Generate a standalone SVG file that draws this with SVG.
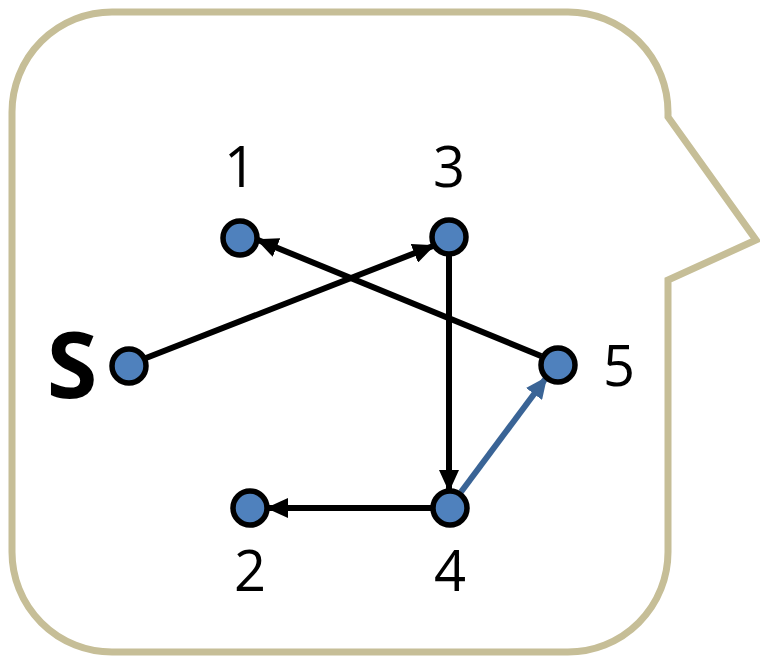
<svg xmlns="http://www.w3.org/2000/svg" width="760" height="658" viewBox="0 0 760 658">
<style>
.node{fill:#4F81BD;stroke:#000;stroke-width:5.5}
.edge{stroke:#000;stroke-width:6;fill:none}
.blue{stroke:#3A6496}
.lbl{font-family:"Open Sans","Liberation Sans",sans-serif;font-size:56px;fill:#000;text-anchor:middle}
</style>
<defs>
<marker id="ah" markerUnits="userSpaceOnUse" markerWidth="22" markerHeight="20" refX="20" refY="10" orient="auto">
<path d="M0,0 L22,10 L0,20 Z" fill="#000"/>
</marker>
<marker id="ahb" markerUnits="userSpaceOnUse" markerWidth="22" markerHeight="20" refX="20" refY="10" orient="auto">
<path d="M0,0 L22,10 L0,20 Z" fill="#3A6496"/>
</marker>
</defs>
<path id="bubble" d="M112,12 H568 A100,100 0 0 1 668,112 L668,117 L756,240 L668,280 L668,552 A100,100 0 0 1 568,652 H112 A100,100 0 0 1 12,552 V112 A100,100 0 0 1 112,12 Z" fill="#fff" stroke="#C6BE97" stroke-width="7"/>
<g id="connectors">
<line class="edge" x1="146" y1="358" x2="433" y2="246" marker-end="url(#ah)"/>
<line class="edge" x1="541" y1="356" x2="258" y2="240" marker-end="url(#ah)"/>
<line class="edge" x1="449" y1="255" x2="449" y2="490" marker-end="url(#ah)"/>
<line class="edge" x1="432" y1="508" x2="268" y2="508" marker-end="url(#ah)"/>
<line class="edge blue" x1="461" y1="492" x2="546" y2="378" marker-end="url(#ahb)"/>
</g>
<g id="nodeS"><circle class="node" cx="129" cy="366" r="17"/><text x="72" y="398" font-family="'Open Sans','Liberation Sans',sans-serif" font-size="92" font-weight="bold" text-anchor="middle">S</text></g>
<g id="node1"><circle class="node" cx="240" cy="238" r="17"/><text class="lbl" x="240" y="187">1</text></g>
<g id="node3"><circle class="node" cx="449" cy="237" r="17"/><text class="lbl" x="449" y="187">3</text></g>
<g id="node5"><circle class="node" cx="558" cy="365" r="17"/><text class="lbl" x="619" y="386">5</text></g>
<g id="node2"><circle class="node" cx="250" cy="508" r="17"/><text class="lbl" x="250" y="591">2</text></g>
<g id="node4"><circle class="node" cx="450" cy="508" r="17"/><text class="lbl" x="450" y="591">4</text></g>
</svg>
